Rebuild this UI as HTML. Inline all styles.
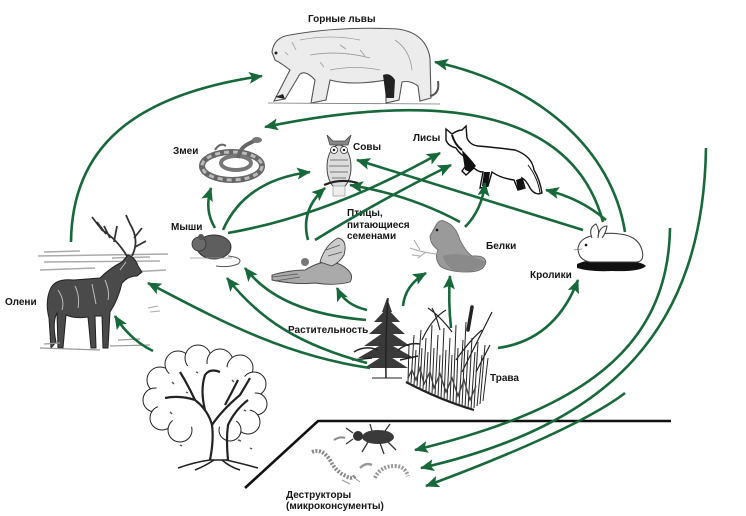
<!DOCTYPE html>
<html><head><meta charset="utf-8">
<style>
html,body{margin:0;padding:0;background:#fff;}
svg{display:block;}
.t{font-family:"Liberation Sans","Noto Sans CJK SC",sans-serif;font-weight:bold;font-size:10px;fill:#151515;}
.a{fill:none;stroke:#17683a;stroke-width:2.6;marker-end:url(#ah);}
</style></head>
<body>
<svg width="746" height="516" viewBox="0 0 746 516" xmlns="http://www.w3.org/2000/svg">
<defs>
<marker id="ah" markerUnits="userSpaceOnUse" markerWidth="16" markerHeight="14" refX="13" refY="6" orient="auto">
<path d="M0,0 L14,6 L0,12 L3,6 Z" fill="#17683a"/>
</marker>
</defs>
<rect width="746" height="516" fill="#fff"/>

<!-- PUMA -->
<g>
<path d="M272,52 Q274,37 290,35 Q340,26 398,29 Q426,33 430,58 L431,98 L420,101 L418,86 Q410,80 402,82 L399,100 L386,103 L386,80 Q352,86 330,80 L326,100 L311,103 L315,80 Q306,70 300,74 L285,99 L274,101 L290,70 Q281,63 275,60 Z" fill="#ececec" stroke="#555" stroke-width="1.1"/>
<path d="M300,40 Q330,34 360,40 M310,55 Q340,50 370,58 M330,70 Q355,65 380,70 M395,40 Q410,50 412,70 M292,42 L296,50 M285,52 l3,3 M340,45 l6,4 M360,50 l5,6 M320,62 l4,5" stroke="#999" stroke-width="0.8" fill="none"/>
<path d="M383,75 Q390,72 395,80 L394,98 L386,98 Z" fill="#222"/>
<path d="M275,97 l8,-3 l2,5 z" fill="#222"/>
<path d="M430,96 Q440,94 438,81" stroke="#555" stroke-width="2" fill="none"/>
<path d="M268,103 L440,104" stroke="#777" stroke-width="0.8"/>
<circle cx="276" cy="53" r="1.5" fill="#222"/>
</g>
<text class="t" x="308" y="22">Горные львы</text>

<!-- SNAKE -->
<g fill="none">
<ellipse cx="232" cy="166" rx="30" ry="14" stroke="#666" stroke-width="6"/>
<ellipse cx="232" cy="166" rx="30" ry="14" stroke="#bbb" stroke-width="3" stroke-dasharray="5 4"/>
<ellipse cx="236" cy="163" rx="15" ry="7" stroke="#777" stroke-width="4"/>
<path d="M238,158 Q240,148 248,144 L258,139" stroke="#666" stroke-width="4"/>
<path d="M215,150 Q220,142 226,146" stroke="#666" stroke-width="2"/>
<ellipse cx="257" cy="140" rx="5" ry="3" fill="#777"/>
</g>
<text class="t" x="173" y="154">Змеи</text>

<!-- OWL -->
<g>
<ellipse cx="339" cy="167" rx="12" ry="22" fill="#ddd" stroke="#444" stroke-width="1"/>
<path d="M327,135 L330,145 L348,145 L351,135 L345,141 L333,141 Z" fill="#888" stroke="#444" stroke-width="0.8"/>
<circle cx="334" cy="150" r="3.5" fill="#fff" stroke="#333" stroke-width="0.8"/>
<circle cx="344" cy="150" r="3.5" fill="#fff" stroke="#333" stroke-width="0.8"/>
<circle cx="334" cy="150" r="1.2" fill="#111"/><circle cx="344" cy="150" r="1.2" fill="#111"/>
<path d="M330,160 L348,160 M329,166 L349,166 M330,172 L348,172 M332,178 L346,178" stroke="#777" stroke-width="1"/>
<path d="M324,185 Q340,178 358,183" stroke="#222" stroke-width="2.2" fill="none"/>
<rect x="333" y="186" width="12" height="10" fill="#eee" stroke="#888" stroke-width="0.6"/>
</g>
<text class="t" x="353" y="150">Совы</text>

<!-- FOX -->
<g>
<path d="M446,129 L452,134 Q458,130 462,130 L466,126 L467,138 Q470,145 478,146 Q500,148 515,150 Q532,156 534,170 Q540,180 542,193 Q535,196 530,188 Q526,180 522,178 L525,188 L518,190 L514,180 Q500,178 492,172 L488,186 L480,188 L483,172 Q478,172 474,168 L466,175 L462,171 L470,160 Q460,155 456,148 Q448,146 446,140 Z" fill="#fff" stroke="#111" stroke-width="1.4"/>
<path d="M462,150 Q470,158 476,166 L470,172 L465,170 Z" fill="#111"/>
<path d="M484,172 L482,186 L488,186 L490,172 Z M516,180 L518,190 L524,188 L522,178 Z" fill="#111"/>
<path d="M452,135 Q455,145 462,150" stroke="#111" stroke-width="2" fill="none"/>
<path d="M528,165 Q538,178 540,193" stroke="#111" stroke-width="1" fill="none"/>
</g>
<text class="t" x="413" y="141">Лисы</text>

<!-- MOUSE -->
<g>
<ellipse cx="214" cy="247" rx="17" ry="12" fill="#5e5e5e" stroke="#333" stroke-width="1"/>
<circle cx="199" cy="244" r="7" fill="#6a6a6a" stroke="#333" stroke-width="0.8"/>
<circle cx="201" cy="237" r="3" fill="#555"/>
<path d="M228,256 Q245,258 238,264 Q228,268 216,266" stroke="#555" stroke-width="1" fill="none"/>
<path d="M190,258 L232,258" stroke="#999" stroke-width="0.8"/>
</g>
<text class="t" x="171" y="230">Мыши</text>

<!-- SEED BIRD -->
<g>
<path d="M272,275 Q290,270 305,270 Q318,262 328,262 Q340,262 348,270 Q354,276 350,282 Q335,286 315,283 Q295,285 272,280 Z" fill="#aaa" stroke="#444" stroke-width="0.9"/>
<path d="M320,262 Q325,245 338,238 Q348,240 344,255 Q340,262 332,266 Z" fill="#ccc" stroke="#444" stroke-width="0.9"/>
<path d="M272,277 L298,274 M275,281 L300,277 M326,250 L340,245 M328,256 L342,252" stroke="#555" stroke-width="0.8"/>
<circle cx="305" cy="262" r="4" fill="#777"/>
</g>
<text class="t" x="347" y="216">Птицы,</text>
<text class="t" x="347" y="228">питающиеся</text>
<text class="t" x="347" y="239">семенами</text>

<!-- SQUIRREL -->
<g>
<path d="M436,225 Q440,218 446,222 Q456,226 460,240 Q466,252 472,256 Q485,255 486,262 Q484,272 468,272 Q448,272 440,266 Q434,258 438,250 Q430,244 430,236 Z" fill="#9a9a9a" stroke="#666" stroke-width="0.8"/>
<path d="M443,256 Q460,250 486,262 Q480,272 460,272 Q446,270 443,256 Z" fill="#8a8a8a"/>
<circle cx="437" cy="230" r="1.3" fill="#111"/>
<path d="M410,248 Q420,252 436,254 M414,240 L420,250 M418,258 L426,252 M412,255 L420,256" stroke="#aaa" stroke-width="1" fill="none"/>
</g>
<text class="t" x="486" y="249">Белки</text>

<!-- RABBIT -->
<g>
<path d="M577,264 Q590,258 610,260 Q640,260 646,266 Q640,272 612,271 Q590,272 577,268 Z" fill="#111"/>
<path d="M578,248 Q580,238 592,236 Q605,232 620,234 Q638,236 642,250 Q645,262 636,262 L590,262 Q578,260 578,248 Z" fill="#fff" stroke="#444" stroke-width="1.1"/>
<path d="M592,238 Q588,228 596,224 Q600,230 598,238 M598,236 Q600,226 607,226 Q606,233 602,238" stroke="#444" stroke-width="1.1" fill="#fff"/>
<circle cx="586" cy="245" r="1.3" fill="#111"/>
<path d="M574,250 L582,249" stroke="#777" stroke-width="0.8"/>
</g>
<text class="t" x="530" y="278">Кролики</text>

<!-- DEER -->
<g>
<path d="M38,256 L168,254 M44,262 L160,261 M40,270 L95,268 M130,272 L166,270 M44,252 L80,251 M112,258 L150,257" stroke="#aaa" stroke-width="1.4"/>
<path d="M128,258 Q118,240 102,230 L92,217 M106,234 L97,222 M114,242 L117,226 M110,238 L104,226 M132,256 Q140,240 130,224 L126,215 M135,247 L146,241 M134,238 L142,228" stroke="#333" stroke-width="1.8" fill="none"/>
<path d="M50,290 Q54,278 74,280 L100,278 Q110,268 122,262 L128,255 Q135,257 138,266 L142,272 L137,276 Q128,276 122,283 Q118,300 110,312 L108,348 L103,348 L102,316 L95,316 L96,348 L91,348 L88,317 Q75,319 66,315 L63,348 L58,348 L57,313 Q52,322 56,342 L51,348 L49,318 Q45,302 50,290 Z" fill="#4a4a4a" stroke="#222" stroke-width="1"/>
<path d="M58,290 Q65,300 62,310 M75,286 Q80,296 78,308 M92,284 L96,304 M105,280 Q110,292 108,300 M120,270 L126,262" stroke="#bbb" stroke-width="1" fill="none"/>
<path d="M40,348 L100,350 M44,344 L60,343 M110,346 L150,345 M118,340 L140,339" stroke="#999" stroke-width="1.2"/>
<path d="M148,308 L158,306 M150,312 L160,311" stroke="#aaa" stroke-width="1"/>
</g>
<text class="t" x="5" y="305">Олени</text>

<!-- TREE -->
<g>
<g fill="#fff" stroke="#222" stroke-width="1">
<circle cx="160" cy="380" r="13"/><circle cx="155" cy="400" r="12"/><circle cx="162" cy="418" r="12"/>
<circle cx="178" cy="364" r="13"/><circle cx="198" cy="358" r="13"/><circle cx="220" cy="362" r="13"/>
<circle cx="240" cy="368" r="13"/><circle cx="254" cy="384" r="12"/><circle cx="256" cy="404" r="11"/>
<circle cx="248" cy="422" r="12"/><circle cx="230" cy="430" r="11"/><circle cx="180" cy="430" r="12"/>
</g>
<ellipse cx="205" cy="396" rx="50" ry="32" fill="#fff"/>
<path d="M210,460 Q214,440 212,425 Q208,410 195,400 Q180,395 165,398 M212,425 Q222,410 240,395 Q246,385 250,378 M205,410 Q200,390 205,375 Q210,368 220,372 M195,400 Q188,385 180,372 M225,405 Q232,392 238,380 M228,460 Q226,440 228,425 Q235,410 248,400" stroke="#222" stroke-width="2.2" fill="none"/>
<path d="M210,460 L228,460" stroke="#222" stroke-width="1.5"/>
<path d="M210,460 Q195,462 178,468 M214,460 Q205,466 195,470 M226,460 Q240,463 258,468 M222,460 Q230,467 240,470" stroke="#222" stroke-width="1.6" fill="none"/>
<path d="M172,382 l2,2 M186,392 l2,1 M232,380 l2,2 M244,410 l2,1 M170,412 l2,2 M196,372 l2,1 M238,440 l3,1 M180,445 l2,1 M250,448 l2,1" stroke="#555" stroke-width="1.5"/>
</g>

<!-- VEGETATION: fern -->
<g fill="#3a3a3a" stroke="none">
<path d="M387,298 L392,312 L382,312 Z"/>
<path d="M387,308 L400,322 L374,322 Z"/>
<path d="M387,318 L405,334 L369,334 Z"/>
<path d="M387,330 L410,346 L364,346 Z"/>
<path d="M386,342 L414,358 L358,358 Z"/>
<path d="M386,354 L408,368 L364,368 Z"/>
</g>
<g stroke="#222" fill="none">
<path d="M386,378 Q385,340 388,298" stroke-width="1.5"/>
<path d="M354,352 Q365,345 378,350 M352,360 L372,358 M398,350 Q408,342 420,344 M400,360 L418,356" stroke-width="1.5"/>
<path d="M372,378 L402,378" stroke-width="1"/>
</g>
<!-- VEGETATION: grass -->
<g stroke="#222" fill="none" stroke-width="1">
<path d="M408,382 L409,345 M411,383 L414,335 M414,385 L416,350 M417,386 L421,330 M420,388 L422,348 M423,389 L426,338 M426,391 L428,352 M429,392 L432,325 M432,394 L434,348 M435,395 L438,335 M438,397 L440,355 M441,398 L444,328 M444,400 L446,350 M447,401 L450,338 M450,402 L452,355 M453,404 L456,325 M456,405 L458,348 M459,406 L463,340 M462,407 L466,322 M465,408 L468,350 M468,409 L472,338 M471,409 L475,352 M474,408 L478,342 M477,406 L482,355 M480,404 L485,345 M483,401 L488,358"/>
<path d="M422,340 Q432,318 446,310 M452,332 Q440,316 428,308 M462,372 L492,312 M476,372 L490,345 M456,360 Q470,340 482,330 M440,330 Q436,315 432,308" stroke-width="1.2"/>
<path d="M468,330 L472,307" stroke-width="3.5" stroke-linecap="round"/>
<path d="M406,382 Q440,400 474,410" stroke-width="2.2"/>
<path d="M408,378 L412,370 L416,380 L420,368 L424,384 L430,372 L434,388 L440,374 L446,392 L452,378 L458,396 L464,380 L470,400 L476,386" stroke="#444" stroke-width="1.4"/>
</g>
<text class="t" x="288" y="333">Растительность</text>
<text class="t" x="490" y="381">Трава</text>

<!-- DECOMPOSERS -->
<g>
<path d="M245,488 L318,421 L671,421" stroke="#111" stroke-width="2.6" fill="none"/>
<ellipse cx="378" cy="437" rx="16" ry="7" fill="#3a3a3a"/>
<ellipse cx="358" cy="436" rx="5" ry="5" fill="#333"/>
<path d="M353,433 L346,428 M353,439 L346,444 M368,442 L362,452 M380,443 L384,454 M388,442 L396,450 M372,431 L370,424 M385,431 L390,424" stroke="#333" stroke-width="1.3" fill="none"/>
<path d="M334,440 Q340,436 345,438" stroke="#888" stroke-width="2" fill="none"/>
<path d="M312,452 Q322,448 330,460 Q336,472 346,476 Q352,480 356,475" stroke="#888" stroke-width="4" fill="none" stroke-dasharray="2 1.5"/>
<path d="M342,480 L350,484 M352,476 L360,482" stroke="#999" stroke-width="1"/>
<path d="M375,478 Q380,466 395,466 Q405,466 408,476" stroke="#999" stroke-width="4" fill="none" stroke-dasharray="2 1.5"/>
<path d="M360,468 Q366,462 372,465" stroke="#999" stroke-width="2.5" fill="none"/>
</g>
<text class="t" x="286" y="498">Деструкторы</text>
<text class="t" x="286" y="509">(микроконсументы)</text>

<!-- ARROWS -->
<g>
<path class="a" d="M71,242 C72,150 130,95 262,76"/>
<path class="a" d="M625,232 C612,150 540,85 435,62"/>
<path class="a" d="M603,222 C570,100 420,95 265,127"/>
<path class="a" d="M606,220 Q580,198 546,190"/>
<path class="a" d="M583,230 L357,160"/>
<path class="a" d="M460,222 Q410,195 350,185"/>
<path class="a" d="M465,227 Q482,210 485,183"/>
<path class="a" d="M228,233 Q330,215 440,153"/>
<path class="a" d="M315,240 Q380,200 451,165"/>
<path class="a" d="M215,228 Q204,210 211,188"/>
<path class="a" d="M223,230 Q245,180 310,172"/>
<path class="a" d="M308,240 Q300,210 325,188"/>
<path class="a" d="M367,363 C300,345 260,320 227,278"/>
<path class="a" d="M366,320 C310,315 270,300 245,268"/>
<path class="a" d="M367,310 Q345,305 337,288"/>
<path class="a" d="M370,368 C280,355 210,315 148,283"/>
<path class="a" d="M153,351 Q130,340 115,316"/>
<path class="a" d="M403,306 Q405,285 426,273"/>
<path class="a" d="M451,328 Q448,300 450,276"/>
<path class="a" d="M498,348 Q555,340 578,280"/>
<path class="a" d="M670,228 C668,350 580,410 415,450"/>
<path class="a" d="M706,148 C703,330 610,425 421,468"/>
<path class="a" d="M625,393 C590,420 510,455 426,486"/>
</g>
</svg>
</body></html>
